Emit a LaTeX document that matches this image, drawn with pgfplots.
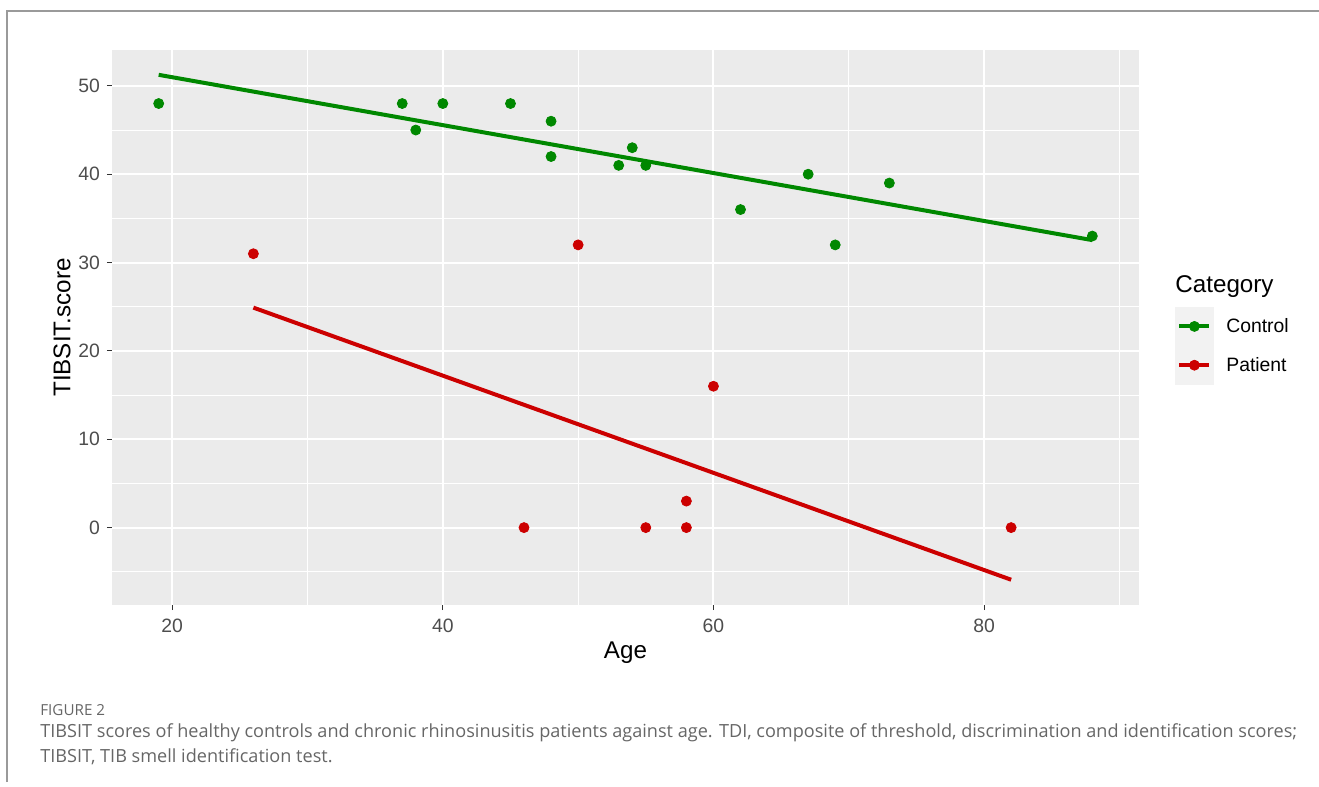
\documentclass[border=0pt]{standalone}
\usepackage{pgfplots}
\pgfplotsset{compat=1.18}
\usepackage{fontspec}
\setmainfont{Liberation Sans}
\newfontfamily\capfont{Open Sans}
\definecolor{ctrl}{HTML}{008800}
\definecolor{pat}{HTML}{CC0000}
\definecolor{panelbg}{HTML}{EBEBEB}
\definecolor{keybg}{HTML}{F2F2F2}
\definecolor{ticktext}{HTML}{4D4D4D}
\definecolor{tickcol}{HTML}{333333}
\definecolor{framecol}{HTML}{9A9A9A}
\definecolor{capcol}{HTML}{666666}
\begin{document}
\begin{tikzpicture}
\path[use as bounding box] (0pt,0pt) rectangle (659.5pt,-393.5pt);
\draw[framecol, line width=1pt] (3.5pt,-391pt) -- (3.5pt,-5.5pt) -- (659.5pt,-5.5pt);
\begin{axis}[
  at={(56pt,-302.5pt)}, anchor=south west,
  scale only axis, width=513.5pt, height=277.5pt,
  xmin=15.55, xmax=91.45, ymin=-8.76, ymax=54.06,
  axis background/.style={fill=panelbg},
  axis line style={draw=none},
  xtick={20,40,60,80}, ytick={0,10,20,30,40,50},
  minor xtick={30,50,70,90}, minor ytick={-5,5,15,25,35,45},
  grid=both,
  major grid style={white, line width=1pt},
  minor grid style={white, line width=0.5pt},
  tick align=outside, major tick length=2.5pt, minor tick length=0pt,
  tick style={tickcol, line width=0.5pt},
  xtick pos=left, ytick pos=left,
  /pgf/number format/assume math mode=true,
  ticklabel style={font=\fontsize{9.68}{11}\selectfont, text=ticktext},
  xticklabel style={yshift=-0.8pt},
  xlabel={Age}, ylabel={TIBSIT.score},
  label style={font=\fontsize{12.1}{14}\selectfont},
  xlabel style={at={(axis description cs:0.5,-0.0865)}, anchor=center},
  ylabel style={at={(axis description cs:-0.0487,0.5)}, anchor=center},
  legend image code/.code={
    \fill[keybg] (0pt,-9.5pt) rectangle (19pt,9.5pt);
    \draw[#1, line width=2pt] (2pt,0pt) -- (17pt,0pt);
    \fill[#1] (9.5pt,0pt) circle (2.5pt);
  },
  legend style={at={(1.0351,0.5369)}, anchor=north west, draw=none, fill=none,
    inner sep=0pt, outer sep=0pt, row sep=0pt, column sep=13.25pt,
    font=\fontsize{9.68}{11}\selectfont, nodes={inner sep=0pt, yshift=-0.5pt}},
  legend cell align=left,
]
\addplot[ctrl, only marks, mark=*, mark size=2.5pt, forget plot] coordinates {
(19,48) (37,48) (38,45) (40,48) (45,48) (48,46) (48,42) (53,41) (54,43) (55,41) (62,36) (67,40) (69,32) (73,39) (88,33)};
\addplot[pat, only marks, mark=*, mark size=2.5pt, forget plot] coordinates {
(26,31) (46,0) (50,32) (55,0) (58,3) (58,0) (60,16) (82,0)};
\addplot[ctrl, line width=2pt, forget plot] coordinates {(19,51.25) (88,32.54)};
\addplot[pat, line width=2pt, forget plot] coordinates {(26,24.9) (82,-5.9)};
\addlegendimage{ctrl}
\addlegendentry{\hspace*{-7pt}Control}
\addlegendimage{pat}
\addlegendentry{\hspace*{-7pt}Patient}
\end{axis}
\node[anchor=base west, font=\fontsize{12.1}{14}\selectfont, inner sep=0pt] at (587.5pt,-146pt) {Category};
\node[anchor=base west, font=\capfont\fontsize{7.6}{9}\selectfont, text=capcol, inner sep=0pt] at (20pt,-357.5pt) {FIGURE 2};
\node[anchor=base west, font=\capfont\fontsize{9.05}{11}\selectfont, text=capcol, inner sep=0pt] at (20pt,-368.5pt) {TIBSIT scores of healthy controls and chronic rhinosinusitis patients against age. TDI, composite of threshold, discrimination and identification scores;};
\node[anchor=base west, font=\capfont\fontsize{9.05}{11}\selectfont, text=capcol, inner sep=0pt] at (20pt,-381pt) {TIBSIT, TIB smell identification test.};
\end{tikzpicture}
\end{document}
